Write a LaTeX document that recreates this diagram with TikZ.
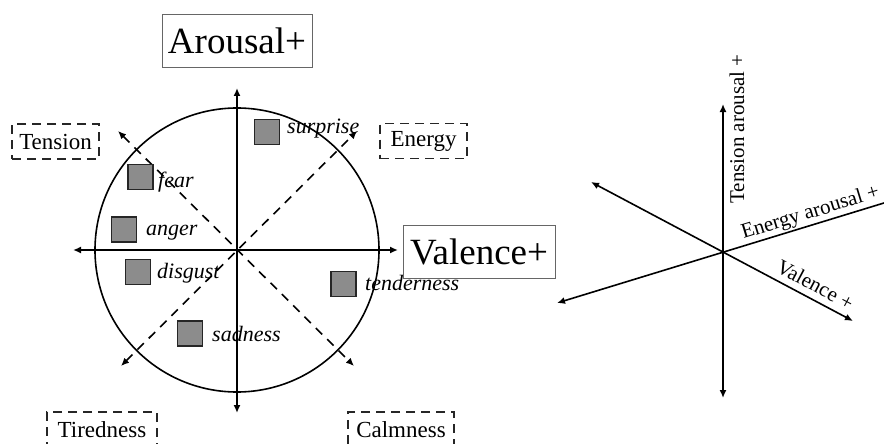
\documentclass[tikz,border=0pt]{standalone}
\usepackage{fontspec}
\setmainfont{Liberation Serif}
\usetikzlibrary{arrows.meta}
\begin{document}
\begin{tikzpicture}[x=1pt,y=-1pt,
  tip/.style={},
  axisline/.style={line width=1.6pt,{Latex[length=8pt,width=7pt]}-{Latex[length=8pt,width=7pt]}},
  diagline/.style={line width=1.6pt,dash pattern=on 9pt off 7pt,{Latex[length=8pt,width=7pt]}-{Latex[length=8pt,width=7pt]}},
  mainbox/.style={draw=black!60,line width=0.9pt,inner sep=0pt,minimum height=53pt,font=\fontsize{37}{40}\selectfont},
  dbox/.style={draw=black!85,line width=1.4pt,dash pattern=on 9pt off 6pt,inner sep=0pt,minimum height=35pt,font=\fontsize{23}{26}\selectfont},
  sq/.style={draw=black!85,fill=black!45,line width=1.3pt,minimum size=25pt,inner sep=0pt},
  emo/.style={anchor=base west,inner sep=0pt,font=\itshape\fontsize{22}{24}\selectfont},
  axlab/.style={inner sep=0pt,font=\fontsize{21}{24}\selectfont}]
\useasboundingbox (0,0) rectangle (884,444);

% ---------- left: circumplex ----------
\coordinate (C) at (237,250);
\coordinate (aT) at (237,88);
\coordinate (aB) at (237,413);
\coordinate (aL) at (73,250);
\coordinate (aR) at (398,250);
\coordinate (dTL) at (118,131);
\coordinate (dBR) at (354,366);
\coordinate (dBL) at (121,366);
\coordinate (dTR) at (357,131);

\draw[line width=1.6pt] (C) circle[radius=142pt];
\draw[axisline] (aL) -- (aR);
\draw[axisline] (aB) -- (aT);
\draw[diagline] (dTL) -- (dBR);
\draw[diagline] (dBL) -- (dTR);

\node[mainbox,minimum width=150pt] (arousal) at (237,41) {Arousal+};
\node[mainbox,minimum width=152pt,fill=white] (valence) at (479,251.5) {Valence+};

\node[dbox,minimum width=87pt] (tension) at (55.5,141.5) {Tension};
\node[dbox,minimum width=87pt] (energy) at (423.5,141) {Energy};
\node[dbox,minimum width=110pt] (tired) at (102,429.5) {Tiredness};
\node[dbox,minimum width=106pt] (calm) at (401,429.5) {Calmness};

\node[sq] (sSur) at (267,132) {};
\node[sq] (sFea) at (140.5,177) {};
\node[sq] (sAng) at (124,229.5) {};
\node[sq] (sDis) at (138,272) {};
\node[sq] (sTen) at (343.5,284) {};
\node[sq] (sSad) at (190,333.5) {};

\node[emo] (lSur) at (287,133) {surprise};
\node[emo] (lFea) at (158,187) {fear};
\node[emo] (lAng) at (146,235) {anger};
\node[emo] (lDis) at (157,278) {disgust};
\node[emo] (lTen) at (365,290) {tenderness};
\node[emo] (lSad) at (212,341) {sadness};

% ---------- right: three axes ----------
\coordinate (rc) at (723,252);
\coordinate (rT) at (723,104);
\coordinate (rB) at (723,398);
\coordinate (rUL) at (591,182);
\coordinate (rLR) at (853,321);
\coordinate (rLL) at (557,303);
\coordinate (rUR) at (897,199);

\draw[axisline] (rB) -- (rT);
\draw[axisline] (rUL) -- (rLR);
\draw[axisline] (rLL) -- (rUR);

\node[axlab,rotate=90] (tTen) at (737,129) {Tension arousal +};
\node[axlab,rotate=17,anchor=base] (tEne) at (812,218) {Energy arousal +};
\node[axlab,rotate=-28,anchor=base] (tVal) at (812,291) {Valence +};
\end{tikzpicture}
\end{document}
